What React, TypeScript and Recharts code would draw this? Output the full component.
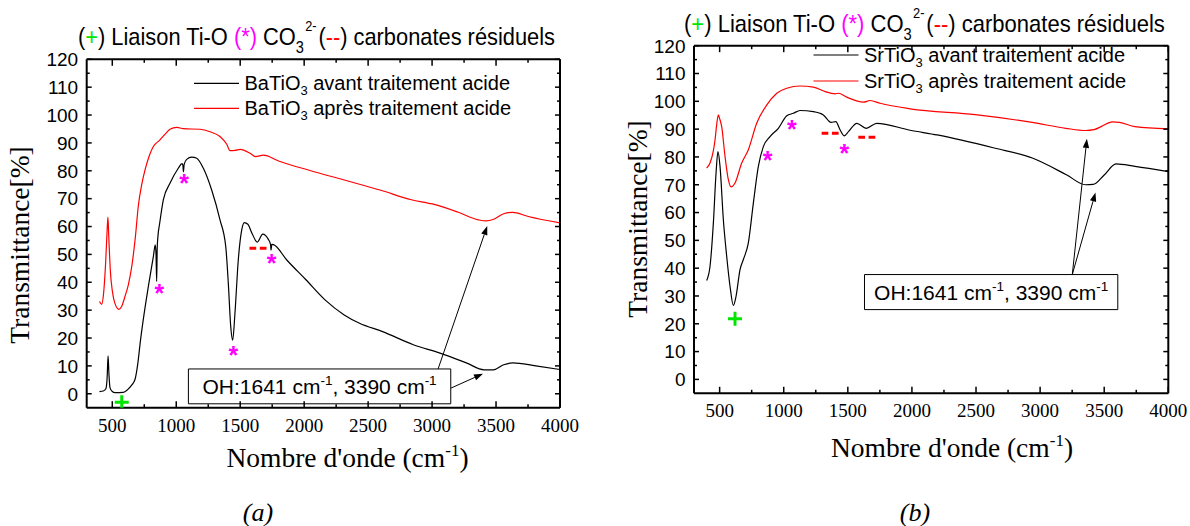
import React, { useLayoutEffect, useRef, useState } from 'react';
import { ComposedChart, Line, Scatter, XAxis, YAxis, ReferenceArea, ReferenceLine } from 'recharts';

// [wavenumber cm-1, transmittance %]
const baAvant = [
  [400, 0.8], [430, 1.0], [450, 1.8], [460, 6], [467, 13.6], [474, 7], [482, 2.2], [500, 0.8], [521, 0.4],
  [586, 0.5], [620, 1.5], [650, 3], [678, 5.2], [700, 11], [720, 19], [742, 26.5], [782, 38.5], [821, 49.2],
  [836, 53.4], [842, 50], [847, 40.3], [851, 52], [858, 57], [870, 61], [899, 69.6], [951, 75.5], [1016, 80.9],
  [1045, 82.6], [1052, 82], [1056, 79.6], [1062, 82.3], [1082, 84.1], [1121, 84.9], [1160, 84.5], [1212, 80.9],
  [1277, 73.1], [1342, 62.4], [1387, 52.8], [1407, 39.7], [1426, 24.1], [1441, 19.2], [1459, 28.9], [1485, 48.0],
  [1512, 58.8], [1532, 61.4], [1560, 60.8], [1590, 57.8], [1634, 54.4], [1676, 57.3], [1720, 55.4], [1737, 53.6],
  [1741, 51.5], [1747, 53.6], [1760, 53.5], [1864, 48.0], [2014, 40.9], [2163, 33.7], [2313, 28.3], [2433, 25.3],
  [2613, 22.3], [2853, 17.6], [3062, 14.6], [3272, 11.0], [3406, 8.6], [3481, 8.6], [3560, 10.4], [3630, 11.1],
  [3811, 10.0], [4000, 8.7],
];

const baApres = [
  [400, 33.1], [417, 32.1], [432, 36], [448, 47], [460, 59], [466, 63.4], [472, 57], [485, 44], [500, 37],
  [520, 32.5], [552, 30.3], [575, 31.5], [599, 34.9], [625, 39], [652, 45.6], [680, 56], [703, 67.2], [730, 75],
  [756, 80.3], [790, 85.5], [821, 88.7], [873, 91.1], [920, 93.5], [951, 94.9], [1004, 95.6], [1055, 95.1],
  [1186, 94.9], [1264, 94.0], [1342, 92.3], [1395, 89.5], [1420, 87.2], [1460, 87.3], [1499, 87.7], [1577, 86.3],
  [1620, 85.1], [1681, 85.6], [1800, 83.5], [2046, 80.1], [2313, 76.7], [2600, 73], [2838, 69.6], [3002, 68.1],
  [3200, 65.2], [3362, 62.4], [3422, 62.0], [3482, 62.6], [3560, 64.6], [3630, 65.1], [3752, 63.6], [4000, 61.3],
];

const srAvant = [
  [399, 35.6], [425, 40.7], [451, 56.2], [472, 74.2], [487, 81.9], [503, 76.6], [529, 57.4], [555, 44.3],
  [581, 33.5], [607, 26.6], [628, 29.9], [659, 39.5], [685, 43.1], [724, 49.1], [763, 63.4], [802, 76.6],
  [841, 83.7], [893, 87.3], [958, 90.3], [1024, 94.8], [1075, 95.7], [1127, 96.7], [1231, 96.3], [1309, 95.1],
  [1369, 92.4], [1406, 92.7], [1440, 89.7], [1471, 87.6], [1505, 89.1], [1570, 92.1], [1643, 90.3], [1726, 92.1],
  [1986, 89.6], [2197, 87.9], [2642, 83.2], [2939, 79.6], [3205, 73.6], [3354, 70.0], [3413, 70.1], [3500, 73.5],
  [3592, 77.5], [3740, 76.6], [4000, 74.7],
];

const srApres = [
  [399, 76.0], [425, 77.8], [450, 82], [464, 86.1], [478, 92], [490, 95.1], [500, 93.8], [516, 90.9], [542, 80.2],
  [568, 71.8], [589, 69.2], [620, 70.6], [672, 77.8], [724, 82.6], [789, 92.1], [868, 98.7], [946, 102.9],
  [1024, 104.7], [1127, 105.5], [1231, 105.1], [1323, 103.5], [1401, 102.7], [1427, 102.9], [1492, 101.5],
  [1622, 99.7], [1674, 100.3], [1752, 99.3], [1986, 97.3], [2494, 95.2], [2939, 92.4], [3200, 90.3], [3354, 89.5],
  [3420, 89.8], [3480, 91], [3563, 92.6], [3620, 92.4], [3740, 90.9], [4000, 90.1],
];

// band markers: (+) Ti-O, (*) CO3 2-, (--) residual carbonates
const plusA = [[574, -3]];
const starsA = [[868, 37.9], [1061, 77.3], [1446, 15.8], [1746, 48.6]];
const dashesA = [[1639, 52.2]];
const plusB = [[620, 21.8]];
const starsB = [[875, 80.8], [1063, 91.9], [1473, 83.2]];
const dashesB = [[1362, 88.5], [1648, 87.1]];

// OH note box [x1, x2, y1, y2] and arrows [x from, y from, x to, y to]
const boxA = [1095, 3146, -3.6, 8.9];
const arrowsA = [[3047, 8.9, 3431, 60.2], [3146, 2.0, 3398, 7.2]];
const boxB = [1630, 3606, 25.1, 37.7];
const arrowsB = [[3251, 37.7, 3365, 86.5], [3251, 37.7, 3432, 67.2]];

const xMajor = [500, 1000, 1500, 2000, 2500, 3000, 3500, 4000];
const xMinor = [750, 1250, 1750, 2250, 2750, 3250, 3750];
const yMajor = [0, 10, 20, 30, 40, 50, 60, 70, 80, 90, 100, 110, 120];
const yMinor = [5, 15, 25, 35, 45, 55, 65, 75, 85, 95, 105, 115];

const SANS = "'Liberation Sans', Arial, sans-serif";
const SERIF = "'Liberation Serif', 'Times New Roman', serif";
const GREEN = '#00e600';
const MAGENTA = '#ff00ff';
const RED = '#ff0000';

const pts = (arr: number[][]) => arr.map(([x, y]) => ({ x, y }));
const xTicks = [...xMajor, ...xMinor].sort((a, b) => a - b);
const yTicks = [...yMajor, ...yMinor].sort((a, b) => a - b);

const BottomTick = (props: any) => {
  const { x, y, payload } = props;
  const major = xMajor.includes(payload.value);
  return (
    <g>
      <line x1={x} x2={x} y1={y} y2={y - (major ? 6.5 : 3.5)} stroke="#000" strokeWidth={1.5} />
      {major && (
        <text x={x} y={y + 24} textAnchor="middle" fontFamily={SERIF} fontSize={19} fill="#000">
          {payload.value}
        </text>
      )}
    </g>
  );
};

const TopTick = (props: any) => {
  const { x, y, payload } = props;
  const major = xMajor.includes(payload.value);
  return <line x1={x} x2={x} y1={y} y2={y + (major ? 6.5 : 3.5)} stroke="#000" strokeWidth={1.5} />;
};

const LeftTick = (props: any) => {
  const { x, y, payload } = props;
  const major = yMajor.includes(payload.value);
  return (
    <g>
      <line x1={x} x2={x + (major ? 5 : 3)} y1={y} y2={y} stroke="#000" strokeWidth={1.5} />
      {major && (
        <text x={x - 8.5} y={y + 6.8} textAnchor="end" fontFamily={SANS} fontSize={19} fill="#000">
          {payload.value}
        </text>
      )}
    </g>
  );
};

const RightTick = (props: any) => {
  const { x, y, payload } = props;
  const major = yMajor.includes(payload.value);
  return <line x1={x} x2={x - (major ? 5 : 3)} y1={y} y2={y} stroke="#000" strokeWidth={1.5} />;
};

const PlusMark = ({ cx, cy }: any) => (
  <g stroke={GREEN} strokeWidth={3}>
    <line x1={cx - 7} x2={cx + 7} y1={cy} y2={cy} />
    <line x1={cx} x2={cx} y1={cy - 7} y2={cy + 7} />
  </g>
);

const StarMark = ({ cx, cy }: any) => (
  <text x={cx} y={cy + 14} textAnchor="middle" fontFamily={SANS} fontWeight="bold" fontSize={25} fill={MAGENTA}>*</text>
);

const DashMark = ({ cx, cy }: any) => (
  <g stroke={RED} strokeWidth={3}>
    <line x1={cx - 8.5} x2={cx - 1.8} y1={cy} y2={cy} />
    <line x1={cx + 1.8} x2={cx + 8.5} y1={cy} y2={cy} />
  </g>
);

const Arrow = (p: any) => {
  const { x1, y1, x2, y2 } = p;
  const a = Math.atan2(y2 - y1, x2 - x1);
  const L = 9;
  const W = 3.2;
  const bx = x2 - L * Math.cos(a);
  const by = y2 - L * Math.sin(a);
  const head = `${x2},${y2} ${bx - W * Math.sin(a)},${by + W * Math.cos(a)} ${bx + W * Math.sin(a)},${by - W * Math.cos(a)}`;
  return (
    <g>
      <line x1={x1} y1={y1} x2={bx} y2={by} stroke="#000" strokeWidth={1} />
      <polygon points={head} fill="#000" />
    </g>
  );
};

const OhLabel = (props: any) => {
  const { x, y, width, height } = props.viewBox;
  return (
    <text x={x + width / 2} y={y + height / 2 + 7.5} textAnchor="middle" fontFamily={SANS} fontSize={21} fill="#000">
      OH:1641 cm<tspan fontSize={13.5} dy={-9}>-1</tspan>
      <tspan dy={9}>{', 3390 cm'}</tspan>
      <tspan fontSize={13.5} dy={-9}>-1</tspan>
    </text>
  );
};

type PanelProps = {
  avant: number[][];
  apres: number[][];
  plus: number[][];
  stars: number[][];
  dashes: number[][];
  box: number[];
  arrows: number[][];
  margin: { top: number; left: number; right: number; bottom: number };
};

function Panel({ avant, apres, plus, stars, dashes, box, arrows, margin }: PanelProps) {
  const frame = { stroke: '#000', strokeWidth: 2 };
  return (
    <ComposedChart width={595} height={526} margin={margin}>
      <XAxis
        dataKey="x" type="number" domain={[300, 4000]} allowDataOverflow ticks={xTicks} interval={0}
        height={1} tickSize={0} tickMargin={0} tickLine={false} axisLine={frame} tick={<BottomTick />}
      />
      <XAxis
        xAxisId="top" orientation="top" dataKey="x" type="number" domain={[300, 4000]} allowDataOverflow
        ticks={xTicks} interval={0} height={1} tickSize={0} tickMargin={0} tickLine={false} axisLine={frame}
        tick={<TopTick />}
      />
      <YAxis
        dataKey="y" type="number" domain={[-5, 120]} allowDataOverflow ticks={yTicks} interval={0}
        width={1} tickSize={0} tickMargin={0} tickLine={false} axisLine={frame} tick={<LeftTick />}
      />
      <YAxis
        yAxisId="right" orientation="right" dataKey="y" type="number" domain={[-5, 120]} allowDataOverflow
        ticks={yTicks} interval={0} width={1} tickSize={0} tickMargin={0} tickLine={false} axisLine={frame}
        tick={<RightTick />}
      />
      <ReferenceArea
        x1={box[0]} x2={box[1]} y1={box[2]} y2={box[3]}
        fill="#fff" fillOpacity={1} stroke="#000" strokeWidth={1} label={<OhLabel />}
      />
      {arrows.map((a, i) => (
        <ReferenceLine
          key={i} segment={[{ x: a[0], y: a[1] }, { x: a[2], y: a[3] }]} ifOverflow="visible" shape={Arrow}
        />
      ))}
      <Line data={pts(apres)} dataKey="y" type="monotone" stroke={RED} strokeWidth={1.2} dot={false} activeDot={false} isAnimationActive={false} />
      <Line data={pts(avant)} dataKey="y" type="monotone" stroke="#000" strokeWidth={1.2} dot={false} activeDot={false} isAnimationActive={false} />
      <Scatter data={pts(plus)} shape={PlusMark} isAnimationActive={false} />
      <Scatter data={pts(stars)} shape={StarMark} isAnimationActive={false} />
      <Scatter data={pts(dashes)} shape={DashMark} isAnimationActive={false} />
    </ComposedChart>
  );
}

// narrow title: natural width measured, then squeezed horizontally to fit
function Title({ x, y, len }: { x: number; y: number; len: number }) {
  const ref = useRef<SVGTextElement>(null);
  const [k, setK] = useState(0.82);
  useLayoutEffect(() => {
    if (ref.current) {
      const w = ref.current.getBBox().width;
      if (w > 0) setK(len / w);
    }
  }, [len]);
  return (
    <text ref={ref} transform={`translate(${x},${y}) scale(${k},1)`} fontFamily={SANS} fontSize={24} fill="#000">
      <tspan>(</tspan>
      <tspan fill={GREEN}>+</tspan>
      <tspan>{') Liaison Ti-O '}</tspan>
      <tspan fill={MAGENTA}>(*)</tspan>
      <tspan>{' CO'}</tspan>
      <tspan fontSize={16} dy={8}>3</tspan>
      <tspan fontSize={14} dx={1.5} dy={-22}>2-</tspan>
      <tspan dx={2} dy={14}>(</tspan>
      <tspan fill={RED}>--</tspan>
      <tspan>{') carbonates résiduels'}</tspan>
    </text>
  );
}

const LegendRow = ({ x, y, color, name, rest }: any) => (
  <g>
    <line x1={x} x2={x + 45} y1={y} y2={y} stroke={color} strokeWidth={1.2} />
    <text x={x + 50.5} y={y + 7} fontFamily={SANS} fontSize={20} fill="#000">
      {name}
      <tspan fontSize={13} dy={5}>3</tspan>
      <tspan dy={-5}>{rest}</tspan>
    </text>
  </g>
);

const AxisTitles = ({ xc, xb, yx, yc }: any) => (
  <g fontFamily={SERIF} fontSize={27.5} fill="#000">
    <text x={xc} y={xb} textAnchor="middle">
      {"Nombre d'onde (cm"}
      <tspan fontSize={17} dy={-11}>-1</tspan>
      <tspan dy={11}>)</tspan>
    </text>
    <text transform={`translate(${yx},${yc}) rotate(-90)`} textAnchor="middle">Transmittance[%]</text>
  </g>
);

export default function App() {
  return (
    <div style={{ position: 'absolute', left: 0, top: 0, width: 1190, height: 526, background: '#fff' }}>
      <div style={{ position: 'absolute', left: 0, top: 0 }}>
        <Panel
          avant={baAvant} apres={baApres} plus={plusA} stars={starsA} dashes={dashesA} box={boxA} arrows={arrowsA}
          margin={{ top: 58.3, left: 85.7, right: 34, bottom: 117.3 }}
        />
      </div>
      <div style={{ position: 'absolute', left: 595, top: 0 }}>
        <Panel
          avant={srAvant} apres={srApres} plus={plusB} stars={starsB} dashes={dashesB} box={boxB} arrows={arrowsB}
          margin={{ top: 44.7, left: 98, right: 20.7, bottom: 131.7 }}
        />
      </div>
      <svg width={1190} height={526} style={{ position: 'absolute', left: 0, top: 0, pointerEvents: 'none' }}>
        <Title x={78} y={45} len={477} />
        <Title x={684} y={32} len={481} />
        <LegendRow x={194} y={83.3} color="#000" name="BaTiO" rest=" avant traitement acide" />
        <LegendRow x={194} y={108.3} color={RED} name="BaTiO" rest=" après traitement acide" />
        <LegendRow x={813.5} y={55} color="#000" name="SrTiO" rest=" avant traitement acide" />
        <LegendRow x={813.5} y={81} color={RED} name="SrTiO" rest=" après traitement acide" />
        <AxisTitles xc={347.5} xb={466.7} yx={29} yc={245} />
        <AxisTitles xc={952} xb={456.7} yx={647} yc={219} />
        <text x={258} y={521} textAnchor="middle" fontFamily={SERIF} fontStyle="italic" fontSize={26}>(a)</text>
        <text x={915} y={521} textAnchor="middle" fontFamily={SERIF} fontStyle="italic" fontSize={26}>(b)</text>
      </svg>
    </div>
  );
}
